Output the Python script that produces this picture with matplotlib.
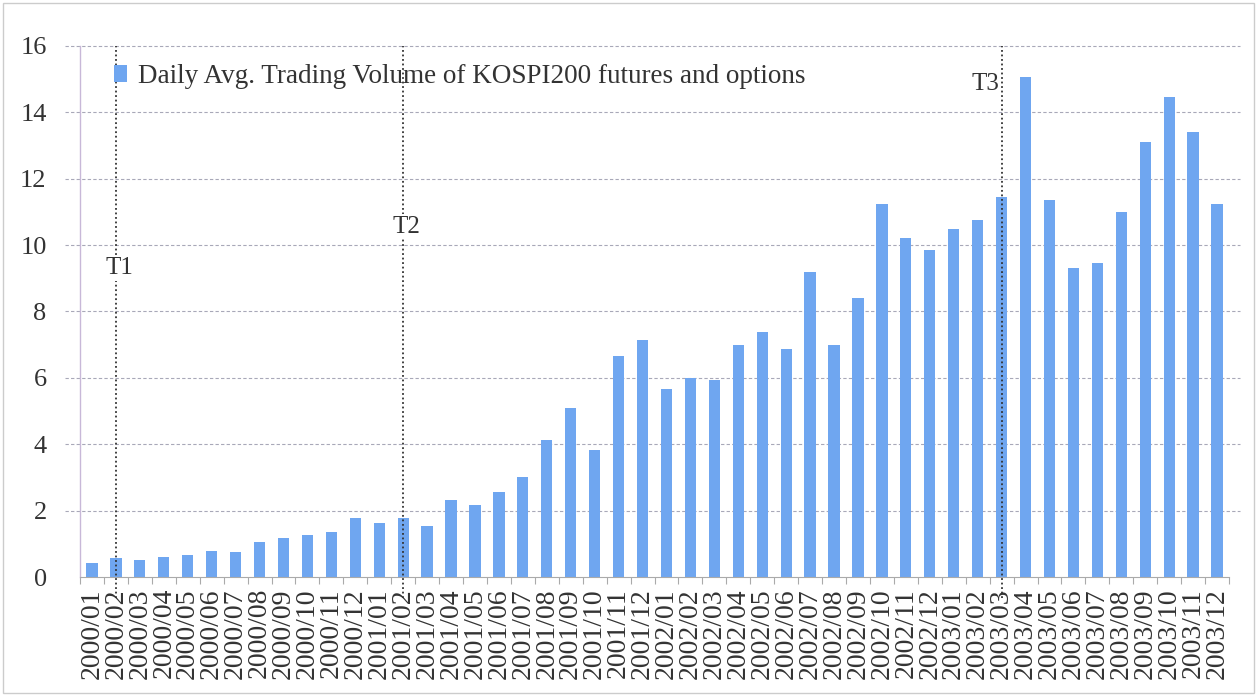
import matplotlib
matplotlib.use("Agg")
import matplotlib.pyplot as plt
from matplotlib.patches import Rectangle

months = [f"{y}/{m:02d}" for y in range(2000, 2004) for m in range(1, 13)]
volume = [0.42, 0.56, 0.50, 0.60, 0.67, 0.79, 0.75, 1.06, 1.17, 1.27, 1.35, 1.78,
          1.63, 1.77, 1.55, 2.32, 2.17, 2.55, 3.00, 4.12, 5.10, 3.82, 6.65, 7.15,
          5.65, 6.00, 5.95, 7.00, 7.38, 6.87, 9.19, 7.00, 8.42, 11.25, 10.20, 9.85,
          10.50, 10.76, 11.45, 15.08, 11.35, 9.30, 9.45, 11.00, 13.10, 14.45, 13.42, 11.25]
event_labels = ["T1", "T2", "T3"]
event_months = ["2000/02", "2001/02", "2003/03"]
yticks = [0, 2, 4, 6, 8, 10, 12, 14, 16]
legend_label = "Daily Avg. Trading Volume of KOSPI200 futures and options"

serif = ["Liberation Serif", "DejaVu Serif"]
plt.rcParams["font.family"] = serif

fig = plt.figure(figsize=(12.57, 6.96), dpi=100)
ax = fig.add_axes([80/1257, 1-577/696, (1229-80)/1257, (577-46)/696])

x = list(range(len(months)))
ax.bar(x, volume, width=0.47, color="#6fa6f0", zorder=2, label=legend_label)

ax.set_xlim(-0.5, len(months) - 0.5)
ax.set_ylim(0, 16)
ax.set_yticks(yticks)
ax.set_yticklabels([str(v) for v in yticks], fontsize=19, color="#333333")
ax.tick_params(axis="y", length=0, pad=24)
ax.set_xticks(x)
ax.set_xticklabels(months, rotation=90, fontsize=20, color="#333333")
ax.set_xticks([i + 0.5 for i in range(-1, len(months))], minor=True)
ax.tick_params(axis="x", which="major", length=0, pad=8)
ax.tick_params(axis="x", which="minor", length=5, color="#aaaaaa", width=0.8)

# dashed gridlines extending slightly beyond the plot area
for v in yticks[1:]:
    ax.axhline(v, xmin=-0.013, xmax=1.01, color="#a8a8b8", linestyle=(0, (3, 2)),
               linewidth=0.8, zorder=0, clip_on=False)

for s in ["top", "right"]:
    ax.spines[s].set_visible(False)
ax.spines["left"].set_color("#c8b8d8")
ax.spines["left"].set_linewidth(1.0)
ax.spines["bottom"].set_color("#aaaaaa")

# event lines
for lab, m in zip(event_labels, event_months):
    i = months.index(m)
    ax.axvline(i, ymin=-0.04, ymax=1.0, color="#333333", linestyle=(0, (1, 1.5)),
               linewidth=1.3, clip_on=False, zorder=3)
ax.text(months.index("2000/02") + 0.15, 9.3, "T1", fontsize=18, ha="center", va="center",
        color="#333333", zorder=4, bbox=dict(facecolor="white", edgecolor="none", pad=1))
ax.text(months.index("2001/02") + 0.15, 10.55, "T2", fontsize=18, ha="center", va="center",
        color="#333333", zorder=4, bbox=dict(facecolor="white", edgecolor="none", pad=1))
ax.text(months.index("2003/03") - 0.1, 14.85, "T3", fontsize=18, ha="right", va="center",
        color="#333333", zorder=4)

leg = ax.legend(loc="upper left", bbox_to_anchor=(0.02, 0.987), frameon=False,
                fontsize=19.5, handlelength=0.5, handleheight=0.6, handletextpad=0.4,
                borderaxespad=0)
for t in leg.get_texts():
    t.set_color("#333333")

fig.patches.append(Rectangle((0.002, 0.004), 0.996, 0.992, transform=fig.transFigure,
                             fill=False, edgecolor="#cccccc", linewidth=1.0))

fig.savefig("out.png", dpi=100)
